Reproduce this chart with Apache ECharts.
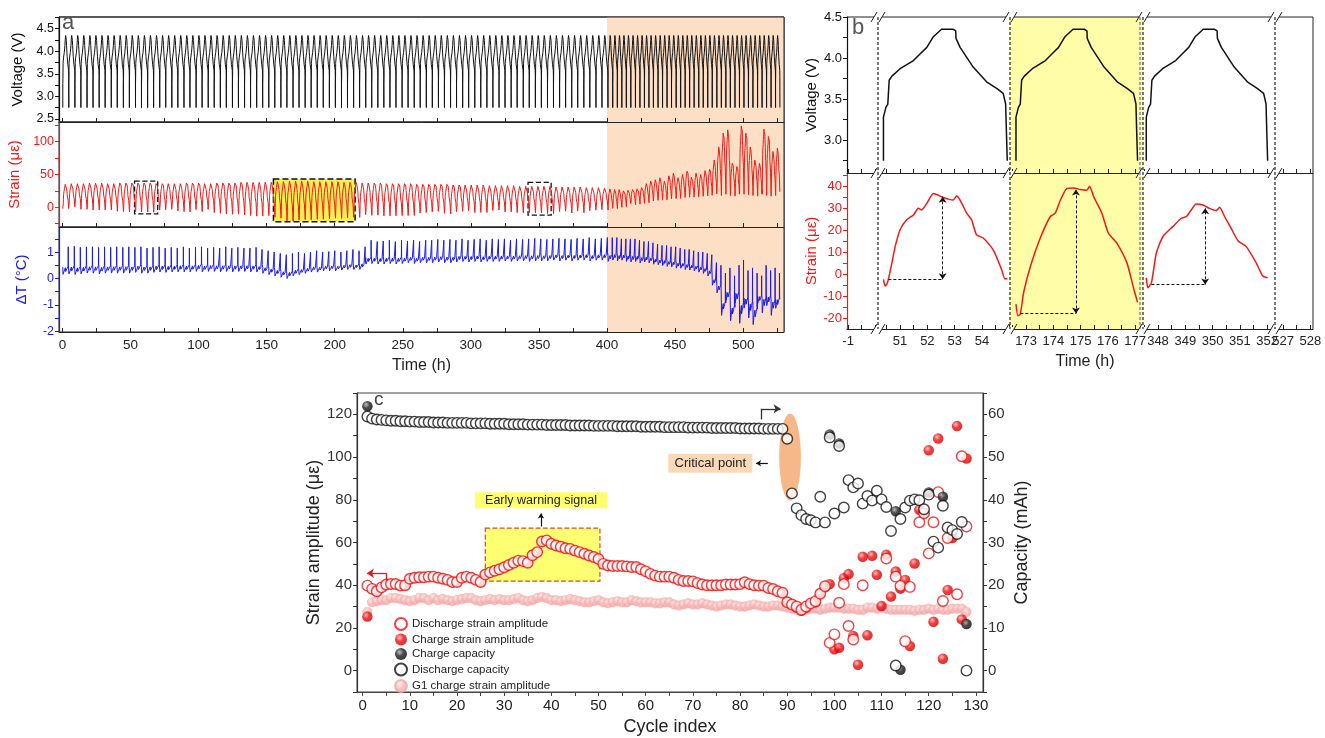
<!DOCTYPE html>
<html><head><meta charset="utf-8">
<script src="https://cdn.jsdelivr.net/npm/echarts@6/dist/echarts.min.js"></script>
<style>html,body{margin:0;padding:0;background:#fff}#c{width:1325px;height:738px}</style>
</head><body><div id="c"></div>
<script>
// ================= DATA =================
// ---- panel a : cycle boundaries (h) ----
const aBounds = [0.3,4.7,9.2,13.6,18.1,22.5,27.0,31.4,35.9,40.3,44.8,49.2,53.7,58.1,62.6,67.0,71.5,75.9,80.4,84.8,89.3,93.7,98.2,102.6,107.1,111.5,116.0,120.4,124.9,129.3,133.8,138.2,142.7,147.1,151.6,156.0,160.5,164.9,169.4,173.8,178.3,182.7,187.2,191.6,196.1,200.5,205.0,209.4,213.9,218.3,222.8,227.2,231.7,236.1,240.6,245.0,249.5,253.9,258.4,262.8,267.3,271.7,276.2,280.6,285.1,289.5,294.0,298.4,302.9,307.3,311.8,316.2,320.7,325.1,329.6,334.0,338.5,342.9,347.4,351.8,356.3,360.7,365.2,369.6,374.1,378.5,383.0,387.4,391.9,396.3,400.7,404.2,407.6,410.9,414.2,417.5,420.9,424.2,427.5,430.8,434.1,437.5,440.8,444.1,447.4,450.8,454.1,457.4,460.7,464.0,467.4,470.7,474.0,477.3,480.7,484.0,487.3,490.6,494.0,497.3,500.6,503.9,507.2,510.6,513.9,517.2,520.5,523.8,527.0];
// per-cycle strain peak / trough (µε)
const aStrainMax = [35,36,36,36,37,37,37,36,36,37, 37,37,37,37,37,36,36,36,36,36, 37,37,37,36,36,37,37,37,37,38, 38,38,38,38,38,39,39,40,40,40, 40,39,39,39,39,39,38,38,38,37, 37,37,37,36,36,36,36,36,35,35, 35,35,35,35,34,34,34,34,34,34, 33,33,33,33,33,32,32,32,32,32, 32,31,31,31,31,31,30,30,30,29,
  28,27,27,28,29,30,31,33,36,40,42,45,40,48,52,45,50,55,46,52,50,56,58, 72,92,113,118,67,62,124,113,92,72,67,119,108,85,90];
const aStrainMin = [-5,-2,-1,-3,-3,-4,-4,-4,-4,-6, -6.5,-6.7,-6.7,-7,-7,-7.5,-7,-6.5,-5.5,-5.5, -6.5,-7,-6.5,-6.5,-5.5,-8,-9,-9.8,-10.5,-10.4, -11.5,-12.5,-13.5,-13.3,-12.5,-15,-16.5,-20.5,-21,-19.4, -18.6,-19,-18.3,-18,-17.2,-16.5,-16.7,-15.9,-15.2,-15.3, -13,-12.2,-12,-13,-13,-12.8,-12.5,-12.5,-12.5,-11.5, -10.3,-9.5,-9,-9,-10,-9.5,-8.5,-8,-8,-7.8, -8,-7.3,-7,-7,-7,-8,-8.3,-8.3,-8.3,-8.5, -9.4,-9.5,-9,-8.8,-8.8,-7.7,-8.2,-7.2,-6.5,-3,
  -4,-3,-2,0,1,3,4,5,6,7,8,8,9,10,10,11,12,12,13,13,14,14,15, 16,18,18,20,18,17,20,20,19,18,17,20,18,17,18];
// per-cycle ΔT low level / spike (°C)
const aDTBase = [0.1,0.12,0.1,0.12,0.15,0.15,0.12,0.15,0.15,0.15, 0.15,0.15,0.18,0.15,0.15,0.18,0.2,0.18,0.2,0.2, 0.2,0.2,0.22,0.2,0.22,0.22,0.2,0.22,0.2,0.22, 0.22,0.2,0.2,0.15,0.1,0.05,0.0,-0.05,0.05,0.1, 0.15,0.2,0.2,0.25,0.25,0.25,0.28,0.3,0.3,0.3, 0.5,0.52,0.5,0.5,0.52,0.5,0.52,0.55,0.52,0.55, 0.55,0.55,0.58,0.55,0.55,0.58,0.6,0.58,0.6,0.58, 0.6,0.6,0.6,0.62,0.6,0.62,0.62,0.6,0.62,0.62, 0.62,0.65,0.62,0.65,0.62,0.65,0.65,0.62,0.65,0.65, 0.6,0.65,0.62,0.65,0.6,0.58,0.6,0.55,0.58,0.55, 0.5,0.48,0.45,0.42,0.4,0.35,0.35,0.3,0.28,0.25, 0.2,0.15,0.05,
  -0.3,-0.6,-1.4,-0.9,-1.6,-1.0,-1.7,-1.2,-1.5,-1.75,-1.0,-1.3,-1.1,-1.4,-1.2];
const aDTPeak = [1.2,1.22,1.18,1.2,1.2,1.18,1.2,1.18,1.2,1.18, 1.2,1.18,1.2,1.15,1.18,1.2,1.15,1.18,1.15,1.2, 1.15,1.18,1.2,1.15,1.18,1.15,1.2,1.15,1.18,1.15, 1.15,1.18,1.1,1.05,1.0,0.95,0.9,0.95,1.0,0.95, 1.0,1.05,1.0,1.02,1.05,1.0,1.05,1.1,1.05,1.2, 1.45,1.4,1.42,1.45,1.4,1.45,1.42,1.45,1.4,1.45, 1.45,1.48,1.45,1.48,1.45,1.5,1.45,1.48,1.5,1.45, 1.5,1.48,1.5,1.45,1.5,1.48,1.5,1.52,1.5,1.48, 1.5,1.52,1.5,1.48,1.52,1.5,1.55,1.5,1.52,1.55, 1.55,1.55,1.5,1.5,1.5,1.5,1.45,1.4,1.4,1.35, 1.3,1.25,1.25,1.2,1.2,1.15,1.1,1.1,1.05,1.0, 1.0,0.95,0.9,
  0.6,0.5,0.2,0.4,0.1,0.5,0.7,0.3,0.4,0.2,0.1,0.5,0.3,0.4,0.2];
// one-cycle voltage profile (h from cycle start, V)
const vProfile = [[0,2.75],[0,3.28],[0.09,3.40],[0.16,3.44],[0.21,3.73],[0.31,3.78],[0.61,3.87],[1.10,3.97],[1.34,4.05],[1.59,4.13],[1.83,4.26],[2.13,4.35],[2.56,4.35],[2.65,4.33],[2.66,4.24],[2.81,4.13],[3.29,3.89],[3.78,3.71],[4.15,3.63],[4.39,3.57],[4.48,3.44],[4.51,3.08],[4.54,2.75]];
// one-cycle strain profile (h from cycle start, µε)
const sProfile = [[0,-2.4],[0.06,-5.4],[0.12,-4.7],[0.18,-2.4],[0.31,5.1],[0.43,12.6],[0.61,20.2],[0.85,24.7],[1.10,26.9],[1.28,29.9],[1.40,29.2],[1.59,32.2],[1.83,36.7],[1.95,36.2],[2.13,35.2],[2.38,34.1],[2.56,33.7],[2.68,35.5],[2.81,33.7],[3.05,27.7],[3.23,24.7],[3.41,17.9],[3.66,16.4],[4.02,11.1],[4.33,2.1],[4.45,-2.1],[4.54,-2.1]];
// one-cycle ΔT shape (fraction of cycle, fraction of low->spike)
const dtProfile = [[0,0.3],[0.03,0.05],[0.06,0],[0.2,0.15],[0.42,0.28],[0.47,0.15],[0.7,0.25],[0.88,0.33],[0.9,1.0],[0.925,0.35],[1,0.3]];
const aXLabels = [0,50,100,150,200,250,300,350,400,450,500];
const aXTicks = [0,25,50,75,100,125,150,175,200,225,250,275,300,325,350,375,400,425,450,475,500,525];

// ---- panel b ----
const bVoltStart = [50.39,172.63,347.57];
const bVoltDur = [4.54,4.46,4.45];
const bStrain = [
 [[50.39,-2.4],[50.45,-5.4],[50.51,-4.7],[50.57,-2.4],[50.70,5.1],[50.82,12.6],[51.0,20.2],[51.24,24.7],[51.49,26.9],[51.67,29.9],[51.79,29.2],[51.98,32.2],[52.22,36.7],[52.34,36.2],[52.52,35.2],[52.77,34.1],[52.95,33.7],[53.07,35.5],[53.2,33.7],[53.44,27.7],[53.62,24.7],[53.8,17.9],[54.05,16.4],[54.41,11.1],[54.72,2.1],[54.84,-2.1],[54.93,-2.1]],
 [[172.63,-13.7],[172.70,-19],[172.79,-18.2],[172.91,-8.4],[173.16,3.6],[173.52,16.4],[173.89,26.2],[174.07,27.7],[174.26,33.7],[174.50,39],[174.74,39.2],[174.99,38.5],[175.23,38.2],[175.33,40],[175.48,35.2],[175.78,27.7],[176.02,18.6],[176.33,14.1],[176.70,5.1],[176.94,-6.2],[177.09,-12.9]],
 [[347.57,-1.7],[347.63,-6.2],[347.76,-3.9],[347.94,9.6],[348.18,17.1],[348.55,21.7],[348.85,25.4],[349.04,26.2],[349.22,29.2],[349.40,31.9],[349.65,31.4],[349.89,29.9],[350.13,28.9],[350.26,30.4],[350.44,26.2],[350.68,20.9],[350.93,15.2],[351.23,12.6],[351.60,5.1],[351.84,-0.9],[352.02,-1.7]]
];
// amplitude arrows: [t_start, t_arrow, strain_low, strain_high]
const bArrows = [[50.57,52.56,-2.4,35.2],[172.79,174.83,-17.9,38.5],[347.76,349.73,-4.7,29.9]];
const bSegMin = [-1.04,50.19,172.41,347.45,526.7];
const bSegMax = [0.1,55.03,177.29,352.29,528.1];
const bSegLabels = [[-1],[51,52,53,54],[173,174,175,176,177],[348,349,350,351,352],[527,528]];
const bSegTicks = [[-1,-0.5,0],[50.5,51,51.5,52,52.5,53,53.5,54,54.5,55],[172.5,173,173.5,174,174.5,175,175.5,176,176.5,177],[347.5,348,348.5,349,349.5,350,350.5,351,351.5,352],[527,527.5,528]];

// ---- panel c (cycle index 1..128) ----
const cDischargeStrain = [39.8,38.3,37.2,39,40.3,40.6,40.6,39.8,40,43, 43.5,43.7,43.7,44,44,43.5,43,42.5,41.5,41.5, 43.5,44,43.5,42.5,41.5,45,46,46.8,47.5,48.4, 49.5,50.5,51.5,51.3,50.5,54,55.5,60.5,61,59.4, 58.6,58,57.3,57,56.2,55.5,54.7,53.9,53.2,52.3, 50,49.2,49,49,49,48.8,48.5,48.5,47.5,46.5, 45.3,44.5,44,44,44,43.5,42.5,42,42,41.8, 41,40.3,40,40,40,40,40.3,40.3,40.3,40.5, 41.4,40.5,40,39.8,39.8,38.7,38.2,37.2,36.5,32,
 31,30,28.5,30,31.5,32.5,36,39.5,13,17, 31.8,40.5,20.9,14.6,null,40,null,null,null,null, 52.5,null,44,39.7,13.8,39.2,null,69.5,73.7,54.9, 69.5,83.6,32.6,62.1,null,35.8,100.4,67.5];
const cChargeStrain = [25.3,38.3,37.2,39,40.3,40.6,40.6,39.8,40,43, 43.5,43.7,43.7,44,44,43.5,43,42.5,41.5,41.5, 43.5,44,43.5,42.5,41.5,45,46,46.8,47.5,48.4, 49.5,50.5,51.5,51.3,50.5,54,55.5,60.5,61,59.4, 58.6,58,57.3,57,56.2,55.5,54.7,53.9,53.2,52.3, 50,49.2,49,49,49,48.8,48.5,48.5,47.5,46.5, 45.3,44.5,44,44,44,43.5,42.5,42,42,41.8, 41,40.3,40,40,40,40,40.3,40.3,40.3,40.5, 41.4,40.5,40,39.8,39.8,38.7,38.2,37.2,36.5,32,
 31,29.5,28,29.5,31.5,32,36,39,40.5,10, 10.7,43.3,45.2,16.2,2.8,53.3,16.6,53.8,44.9,30.3, 54.3,34.7,46.4,38.4,42.5,11.5,50.2,75.3,73.7,103.2, 22.9,108.7,5.6,37.8,62.1,114.5,24,99.3];
const cG1Strain = [27.5,32,32.5,33,33,34,34,33.5,33,32.5, 33,34,34,33,34,33,33.5,33,32.5,33, 33.5,34,34,33,32.5,33,33.5,33,33.5,33, 33,33.5,34,33,32.5,33,34,34.5,34,33, 33,32.5,33,33.5,33,32.5,32,32,32.5,33, 32,31.5,32,32.5,32,32,33,32.5,32,32, 32,31.5,31.5,32,32,31,30.5,31,31.5,31, 31,31.5,31,30.5,30,30.5,31,31,30.5,30, 30,30.5,31,30.5,30,30,30.5,30.5,30,29.5, 29,28.5,28.5,28.5,29,29,28.5,29,29.5,29.5, 29.5,29,29,29,28.5,28.5,29.5,29.5,29,29.5, 29,28.5,28.5,28.5,28.5,28.5,28,28.5,28.5,29, 28.5,29,28.5,28.5,29,29,29,27.5];
const cDischargeCap = [59.5,59.0,58.8,58.7,58.6,58.5,58.5,58.4,58.4,58.3, 58.3,58.2,58.2,58.2,58.1,58.1,58.1,58.0,58.0,58.0, 58.0,58.0,57.9,57.9,57.9,57.9,57.8,57.8,57.8,57.8, 57.7,57.7,57.7,57.7,57.6,57.6,57.6,57.6,57.5,57.5, 57.5,57.5,57.5,57.4,57.4,57.4,57.4,57.4,57.3,57.3, 57.3,57.3,57.3,57.2,57.2,57.2,57.2,57.2,57.1,57.1, 57.1,57.1,57.1,57.0,57.0,57.0,57.0,57.0,56.9,56.9, 56.9,56.9,56.9,56.8,56.8,56.8,56.8,56.8,56.8,56.7, 56.7,56.7,56.7,56.7,56.6,56.6,56.6,56.6,56.6,54.3,
 41.5,38.0,36.4,35.5,35.2,34.7,40.7,34.7,54.6,36.8, 52.6,38.2,44.6,42.9,43.8,39.1,40.9,39.8,42.1,40.1, 38.3,32.7,1.2,35.5,38.2,39.8,40.1,39.9,37.8,41.2, 30.2,28.8,38.6,33.5,32.9,32.0,34.8,0];
const cChargeCapCycles = [1,99,101,113,114,120,123,128];
const cChargeCapValues = [61.9,55.3,53.2,37.3,0.2,41.7,40.7,10.9];
const cXLabels = [0,10,20,30,40,50,60,70,80,90,100,110,120,130];
const cXTicks = [0,5,10,15,20,25,30,35,40,45,50,55,60,65,70,75,80,85,90,95,100,105,110,115,120,125,130];
const cYLabels = [0,20,40,60,80,100,120];
const cYTicks = [-10,0,10,20,30,40,50,60,70,80,90,100,110,120,130];
const cY2Labels = [0,10,20,30,40,50,60];
const cY2Ticks = [-5,0,5,10,15,20,25,30,35,40,45,50,55,60,65];

// ================= BUILD =================
const FONT = '"Liberation Sans", Arial, Helvetica, sans-serif';
const TXT = '#222';
const RED = '#F01818', BLUE = '#1A1AF0', ORANGE = '#FCDFC4';

const vDur = vProfile[vProfile.length-1][0];
const sLo = Math.min(...sProfile.map(p=>p[1])), sHi = Math.max(...sProfile.map(p=>p[1]));
const aVolt = [], aStrain = [], aDT = [];
for (let k = 0; k < aStrainMax.length; k++) {
  const t0 = aBounds[k], dur = aBounds[k+1] - t0, sc = dur / vDur;
  vProfile.forEach(p => aVolt.push([t0 + p[0]*sc, p[1]]));
  const lo = aStrainMin[k], hi = aStrainMax[k];
  sProfile.forEach(p => aStrain.push([t0 + p[0]*sc, lo + (p[1]-sLo)/(sHi-sLo)*(hi-lo)]));
  dtProfile.forEach(p => aDT.push([t0 + p[0]*dur, aDTBase[k] + p[1]*(aDTPeak[k]-aDTBase[k])]));
}

function yAx(g, min, max, labels, ticks, color, name, gap, fmt, fs) {
  return {type:'value', gridIndex:g, min, max, z:3,
    axisLine:{show:true, onZero:false, lineStyle:{color, width:1.2}},
    axisTick:{show:true, length:4, customValues:ticks, lineStyle:{color}},
    axisLabel:{show:true, customValues:labels, color, fontSize:fs||12.5, margin:5, formatter:fmt, fontFamily:FONT},
    splitLine:{show:false}, name, nameLocation:'middle', nameGap:gap, nameRotate:90,
    nameTextStyle:{color, fontSize:15, fontFamily:FONT}};
}

const grids = [], xAxes = [], yAxes = [], series = [];
// ---- panel a ----
[17,122,227].forEach((top,i) => {
  grids.push({left:59, top, width:725, height:105, show:true, borderColor:TXT, borderWidth:1, backgroundColor:'transparent', outerBoundsMode:'none'});
  xAxes.push({type:'value', gridIndex:i, min:-2.5, max:530, z:3,
    axisLine:{show:true, onZero:false, lineStyle:{color:TXT, width:1}},
    axisTick:{show:true, inside:true, length:4, customValues:aXTicks, lineStyle:{color:TXT}},
    axisLabel:{show:i===2, customValues:aXLabels, fontSize:13.5, color:TXT, margin:6, fontFamily:FONT},
    splitLine:{show:false}, name:i===2?'Time (h)':'', nameLocation:'middle', nameGap:26,
    nameTextStyle:{fontSize:16, color:TXT, fontFamily:FONT}});
});
yAxes.push(yAx(0, 2.43, 4.76, [2.5,3,3.5,4,4.5], [2.5,2.75,3,3.25,3.5,3.75,4,4.25,4.5,4.75], '#111', 'Voltage (V)', 30, v=>v.toFixed(1)));
yAxes.push(yAx(1, -30, 130, [0,50,100], [-25,0,25,50,75,100,125], RED, 'Strain (\u03bc\u03b5)', 30));
yAxes.push(yAx(2, -2.03, 1.95, [-2,-1,0,1], [-2,-1.5,-1,-0.5,0,0.5,1,1.5], BLUE, '\u0394T (\u00b0C)', 30));
const orangeArea = [{xAxis:400, itemStyle:{color:ORANGE}}, {xAxis:530}];
series.push({type:'line', xAxisIndex:0, yAxisIndex:0, data:aVolt, showSymbol:false, lineStyle:{color:'#111', width:1}, silent:true,
  markArea:{silent:true, data:[orangeArea]}});
series.push({type:'line', xAxisIndex:1, yAxisIndex:1, data:aStrain, showSymbol:false, lineStyle:{color:RED, width:1}, silent:true,
  markArea:{silent:true, data:[orangeArea,
    [{coord:[155,43], itemStyle:{color:'#F7EF55', borderColor:'#111', borderType:'dashed', borderWidth:1.5}}, {coord:[215,-22]}],
    [{coord:[53,40], itemStyle:{color:'rgba(0,0,0,0)', borderColor:'#111', borderType:'dashed', borderWidth:1.3}}, {coord:[70,-10]}],
    [{coord:[342,38], itemStyle:{color:'rgba(0,0,0,0)', borderColor:'#111', borderType:'dashed', borderWidth:1.3}}, {coord:[359,-12]}]
  ]}});
series.push({type:'line', xAxisIndex:2, yAxisIndex:2, data:aDT, showSymbol:false, lineStyle:{color:BLUE, width:1}, silent:true,
  markArea:{silent:true, data:[orangeArea]}});

// ---- panel b (broken time axis: 5 segments x 2 rows) ----
const bLeft = [847,878,1010,1143,1275], bRight = [878,1010,1143,1275,1313];
[17,173].forEach((top,row) => {
  for (let s = 0; s < 5; s++) {
    const g = grids.length;
    grids.push({left:bLeft[s], top, width:bRight[s]-bLeft[s], height:156, outerBoundsMode:'none',
      show:s===2, backgroundColor:s===2?'#FFFDA8':'transparent', borderWidth:0});
    xAxes.push({type:'value', gridIndex:g, min:bSegMin[s], max:bSegMax[s], z:3,
      axisLine:{show:true, onZero:false, lineStyle:{color:TXT, width:1}},
      axisTick:{show:true, inside:true, length:4, customValues:bSegTicks[s], lineStyle:{color:TXT}},
      axisLabel:{show:row===1, customValues:bSegLabels[s], fontSize:13, color:TXT, margin:6, fontFamily:FONT},
      splitLine:{show:false}});
    if (s === 0) {
      if (row === 0) yAxes.push(yAx(g, 2.6, 4.5, [3,3.5,4,4.5], [2.75,3,3.25,3.5,3.75,4,4.25,4.5], '#111', 'Voltage (V)', 28, v=>v.toFixed(1), 13));
      else yAxes.push(yAx(g, -25, 46, [-20,-10,0,10,20,30,40], [-20,-15,-10,-5,0,5,10,15,20,25,30,35,40,45], RED, 'Strain (\u03bc\u03b5)', 28, undefined, 13));
    } else {
      yAxes.push({type:'value', gridIndex:g, show:false, min:row===0?2.6:-25, max:row===0?4.5:46, splitLine:{show:false}});
    }
  }
});
for (let j = 0; j < 3; j++) {
  const gTop = 3 + 1 + j, gBot = 8 + 1 + j;
  const sc = bVoltDur[j] / vDur;
  series.push({type:'line', xAxisIndex:gTop, yAxisIndex:gTop, showSymbol:false, silent:true,
    data:vProfile.map(p=>[bVoltStart[j] + p[0]*sc, p[1]]), lineStyle:{color:'#111', width:1.5}});
  const A = bArrows[j];
  series.push({type:'line', xAxisIndex:gBot, yAxisIndex:gBot, showSymbol:false, silent:true, smooth:0.2,
    data:bStrain[j], lineStyle:{color:RED, width:1.5},
    markLine:{silent:true, animation:false, symbolSize:6, label:{show:false},
      lineStyle:{color:'#111', width:1, type:[3,2]},
      data:[[{coord:[A[0],A[2]], symbol:'none'},{coord:[A[1],A[2]], symbol:'none'}],
            [{coord:[A[1],A[2]], symbol:'arrow'},{coord:[A[1],A[3]], symbol:'arrow'}]]}});
}

// ---- panel c ----
const gc = grids.length;
grids.push({left:357, top:393, width:626, height:299, show:true, borderColor:'#444', borderWidth:1, backgroundColor:'transparent', outerBoundsMode:'none'});
xAxes.push({type:'value', gridIndex:gc, min:-1.2, max:131.5, z:3,
  axisLine:{show:true, onZero:false, lineStyle:{color:'#444', width:1.2}},
  axisTick:{show:true, length:4, customValues:cXTicks, lineStyle:{color:'#444'}},
  axisLabel:{customValues:cXLabels, fontSize:15, color:TXT, margin:6, fontFamily:FONT},
  splitLine:{show:false}, name:'Cycle index', nameLocation:'middle', nameGap:26, nameTextStyle:{fontSize:18, color:TXT, fontFamily:FONT}});
const ycL = yAxes.length;
yAxes.push(Object.assign(yAx(gc, -10, 130, cYLabels, cYTicks, '#333', 'Strain amplitude (\u03bc\u03b5)', 33, undefined, 15), {nameTextStyle:{color:TXT, fontSize:18, fontFamily:FONT}}));
yAxes.push(Object.assign(yAx(gc, -5, 65, cY2Labels, cY2Ticks, '#333', 'Capacity (mAh)', 30, undefined, 15), {position:'right', nameTextStyle:{color:TXT, fontSize:18, fontFamily:FONT}}));
const ycR = ycL + 1;

const cCycles = cDischargeCap.map((_, i) => i + 1);
const toPts = vals => vals.map((v, i) => v == null ? null : [cCycles[i], v]).filter(Boolean);
const ball = (hi, mid, lo) => ({type:'radial', x:0.38, y:0.35, r:0.7, colorStops:[{offset:0,color:hi},{offset:0.45,color:mid},{offset:1,color:lo}]});

// annotation host (ellipse + labels + arrows + warning box)
series.push({type:'custom', name:'annot', xAxisIndex:gc, yAxisIndex:ycL, z:1, silent:true,
  data:[[90.6, 100, 2.3, 20.4]],
  renderItem:(p, api) => {
    const c = api.coord([api.value(0), api.value(1)]);
    const s = api.size([api.value(2), api.value(3)]);
    return {type:'circle', shape:{cx:0, cy:0, r:1}, x:c[0], y:c[1], scaleX:s[0], scaleY:s[1], style:{fill:'#F6B889'}};
  },
  markArea:{silent:true, data:[[{coord:[26,66.7], itemStyle:{color:'#FFFF72', borderColor:'#E0452A', borderType:'dashed', borderWidth:1.2}}, {coord:[50.3,41.9]}]]},
  markPoint:{silent:true, animation:false, data:[
    {coord:[37.8,79.8], symbol:'rect', symbolSize:[132,16], itemStyle:{color:'#FFFF6E'},
      label:{show:true, position:'inside', formatter:'Early warning signal', color:TXT, fontSize:12.5, fontFamily:FONT}},
    {coord:[73.7,97.1], symbol:'rect', symbolSize:[84,19], itemStyle:{color:'#FBD9B8'},
      label:{show:true, position:'inside', formatter:'Critical point', color:TXT, fontSize:13, fontFamily:FONT}}
  ]},
  markLine:{silent:true, animation:false, symbolSize:7, label:{show:false}, lineStyle:{type:'solid', width:1.3},
    data:[
      [{coord:[5.1,42.1], symbol:'none', lineStyle:{color:'#E8141B', type:'solid', width:1.3}}, {coord:[5.1,45.6], symbol:'none'}],
      [{coord:[5.1,45.6], symbol:'none', lineStyle:{color:'#E8141B', type:'solid', width:1.3}}, {coord:[0.9,45.6], symbol:'arrow'}],
      [{coord:[84.4,117.6], symbol:'none', lineStyle:{color:'#333', type:'solid', width:1.3}}, {coord:[84.4,122.6], symbol:'none'}],
      [{coord:[84.4,122.6], symbol:'none', lineStyle:{color:'#333', type:'solid', width:1.3}}, {coord:[88.6,122.6], symbol:'arrow'}],
      [{coord:[37.8,67.5], symbol:'none', lineStyle:{color:'#111', type:'solid', width:1.2}}, {coord:[37.8,73.6], symbol:'arrow', symbolSize:5}],
      [{coord:[85.9,97.1], symbol:'none', lineStyle:{color:'#111', type:'solid', width:1.2}}, {coord:[83.4,97.1], symbol:'arrow', symbolSize:5}]
    ]}
});
series.push({type:'scatter', name:'G1 charge strain amplitude', xAxisIndex:gc, yAxisIndex:ycL, symbolSize:9.5, silent:true,
  data:toPts(cG1Strain), itemStyle:{color:ball('#FFE6E6','#F7B7B7','#F0A0A0'), borderColor:'#F3A9A9', borderWidth:0.6}});
series.push({type:'scatter', name:'Charge strain amplitude', xAxisIndex:gc, yAxisIndex:ycL, symbolSize:10.5, silent:true,
  data:toPts(cChargeStrain), itemStyle:{color:ball('#FFB5B5','#F01010','#C40000')}});
series.push({type:'scatter', name:'Discharge strain amplitude', xAxisIndex:gc, yAxisIndex:ycL, symbolSize:10.5, silent:true,
  data:toPts(cDischargeStrain), itemStyle:{color:'#fff', borderColor:'#EE1111', borderWidth:1.4}});
series.push({type:'scatter', name:'Charge capacity', xAxisIndex:gc, yAxisIndex:ycR, symbolSize:10.5, silent:true,
  data:cChargeCapCycles.map((c, i) => [c, cChargeCapValues[i]]), itemStyle:{color:ball('#B0B0B0','#222','#000')}});
series.push({type:'scatter', name:'Discharge capacity', xAxisIndex:gc, yAxisIndex:ycR, symbolSize:10.5, silent:true,
  data:toPts(cDischargeCap), itemStyle:{color:'#fff', borderColor:'#111', borderWidth:1.4}});

// ---- decorations (frame lines, axis breaks, panel letters) ----
const gfx = [];
gfx.push({type:'line', z:100, shape:{x1:59, y1:17, x2:784, y2:17}, style:{stroke:TXT, lineWidth:1}});
gfx.push({type:'line', z:100, shape:{x1:784, y1:17, x2:784, y2:332}, style:{stroke:TXT, lineWidth:1}});
gfx.push({type:'text', left:62, top:12, z:100, style:{text:'a', font:'22px ' + FONT, fill:'#555'}});
gfx.push({type:'text', left:852, top:17, z:100, style:{text:'b', font:'22px ' + FONT, fill:'#555'}});
gfx.push({type:'text', left:374, top:390, z:100, style:{text:'c', font:'19px ' + FONT, fill:'#444'}});
gfx.push({type:'text', x:1085, y:362, z:100, style:{text:'Time (h)', font:'16px ' + FONT, fill:TXT, align:'center', verticalAlign:'middle'}});
gfx.push({type:'line', z:100, shape:{x1:847, y1:17, x2:1313, y2:17}, style:{stroke:TXT, lineWidth:1}});
gfx.push({type:'line', z:100, shape:{x1:1313, y1:17, x2:1313, y2:329}, style:{stroke:TXT, lineWidth:1}});
[878,1010,1143,1275].forEach(x => {
  [17,173,329].forEach(y => {
    gfx.push({type:'rect', z:101, shape:{x:x-4, y:y-2, width:8, height:4}, style:{fill:'#fff'}});
    [x-4, x+4].forEach(xx => gfx.push({type:'line', z:102, shape:{x1:xx-3, y1:y+5, x2:xx+3, y2:y-5}, style:{stroke:TXT, lineWidth:1}}));
  });
  gfx.push({type:'line', z:103, shape:{x1:x, y1:17, x2:x, y2:329}, style:{stroke:'#222', lineWidth:1.2, lineDash:[3,2]}});
});
gfx.push({type:'line', z:103, shape:{x1:1140, y1:17, x2:1140, y2:329}, style:{stroke:'#3050D0', lineWidth:1, lineDash:[3,2]}});

const chart = echarts.init(document.getElementById('c'), null, {renderer:'canvas'});
chart.setOption({
  animation:false,
  backgroundColor:'#fff',
  textStyle:{fontFamily:FONT},
  grid:grids, xAxis:xAxes, yAxis:yAxes, series,
  legend:{orient:'vertical', left:389, top:612, itemWidth:12, itemHeight:12, itemGap:2.5, selectedMode:false,
    textStyle:{fontSize:11.5, color:TXT, fontFamily:FONT},
    data:['Discharge strain amplitude','Charge strain amplitude','Charge capacity','Discharge capacity','G1 charge strain amplitude']},
  graphic:gfx
});
</script></body></html>
